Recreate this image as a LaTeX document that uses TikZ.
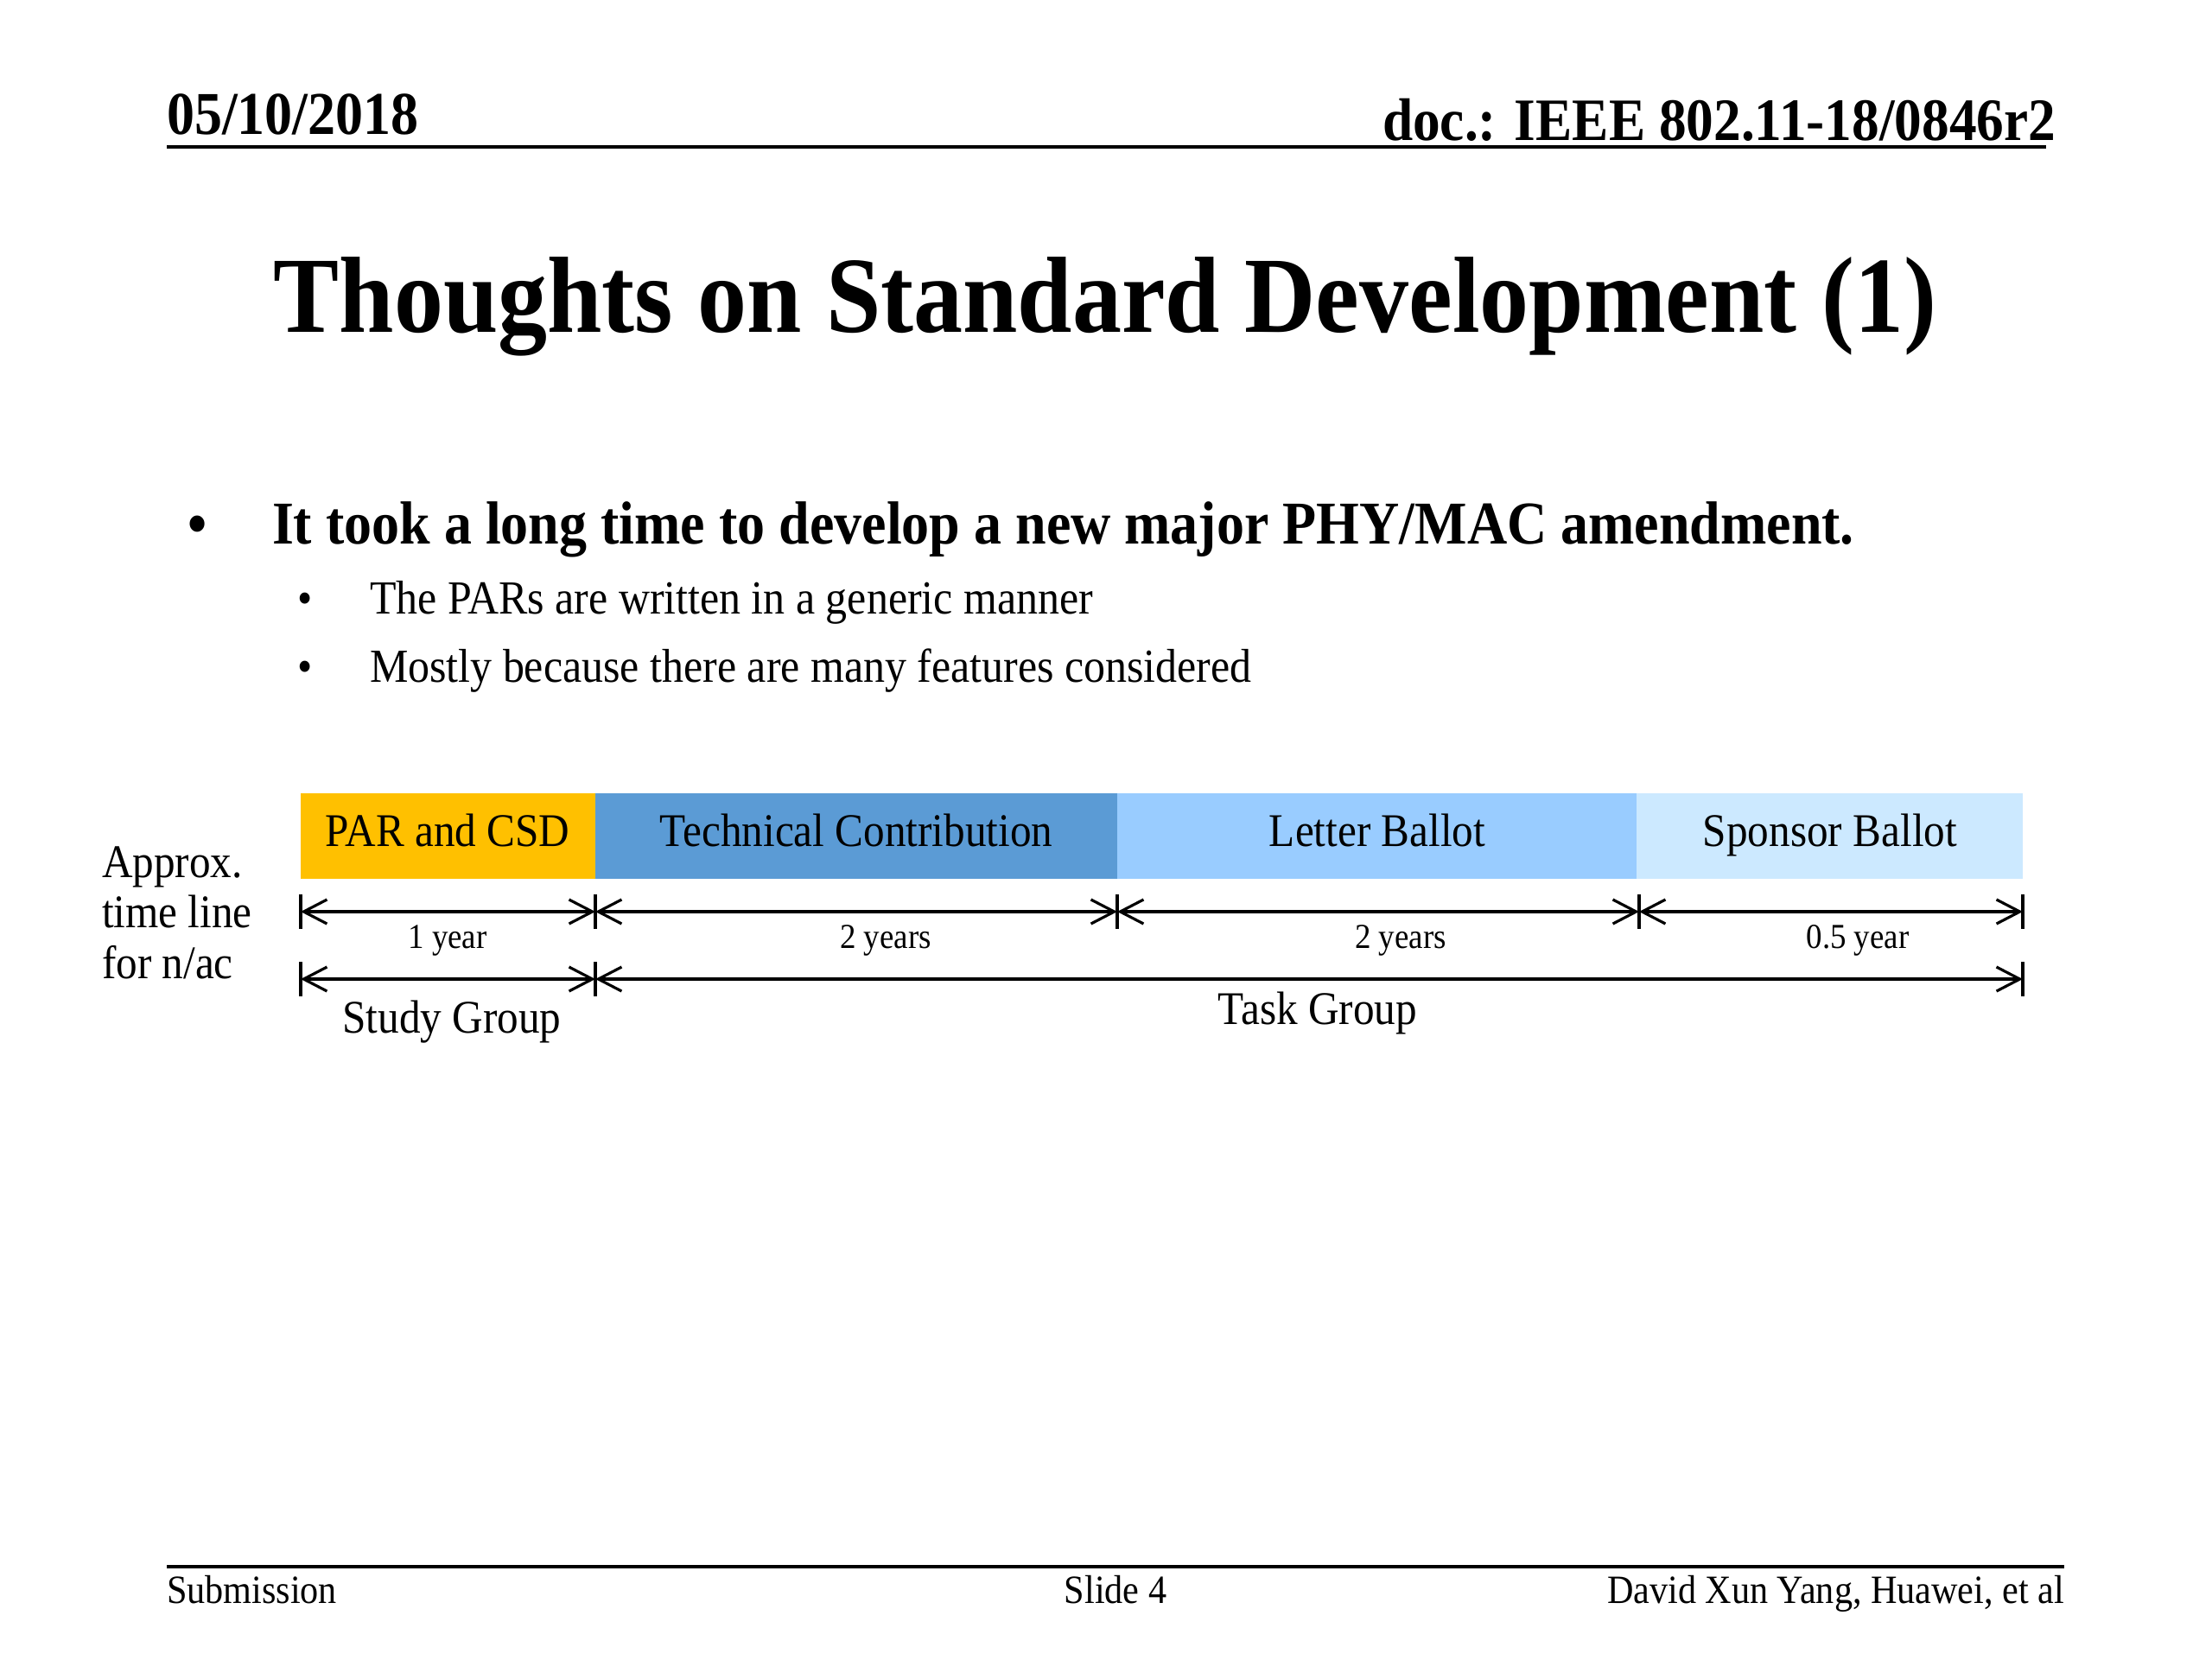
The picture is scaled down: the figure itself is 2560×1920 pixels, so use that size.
\documentclass[tikz,border=0pt]{standalone}
\usepackage{fontspec}
\usepackage{graphicx}
\setmainfont{Liberation Serif}
\usetikzlibrary{arrows.meta}
\definecolor{gold}{HTML}{FFC000}
\definecolor{techblue}{HTML}{5B9BD5}
\definecolor{letterblue}{HTML}{99CCFF}
\definecolor{sponsorblue}{HTML}{CCE9FF}
\newcommand\vst[1]{\scalebox{1}[1.1]{#1}}
\tikzset{
  txt/.style={inner sep=0pt, outer sep=0pt, anchor=base},
  bartext/.style={txt, font=\fontsize{14}{17}\selectfont},
  yeartext/.style={txt, font=\fontsize{10.5}{12}\selectfont},
  grouptext/.style={txt, font=\fontsize{14}{17}\selectfont},
  tickline/.style={line width=0.9pt},
  dimarrow/.style={line width=0.9pt, {Straight Barb[length=2.7mm,width=2.8mm]}-{Straight Barb[length=2.7mm,width=2.8mm]}},
  rule/.style={line width=1.2pt}
}
\begin{document}
\begin{tikzpicture}[x=0.01cm,y=-0.01cm]
\useasboundingbox (0,0) rectangle (2560,1920);

% header
\node[txt, anchor=base west, font=\fontsize{18.2}{21}\selectfont\bfseries] (date) at (193,155) {\vst{05/10/2018}};
\node[txt, anchor=base east, font=\fontsize{18}{21}\selectfont\bfseries] (doc) at (2379,162) {\vst{doc.: IEEE 802.11-18/0846r2}};
\coordinate (hl) at (193,170);
\coordinate (hr) at (2368,170);
\draw[rule] (hl) -- (hr);

% title
\node[txt, font=\fontsize{32.4}{38}\selectfont\bfseries] (title) at (1279,384) {\vst{Thoughts on Standard Development (1)}};

% bullets
\node[txt, font=\fontsize{18}{21}\selectfont\bfseries] (b1) at (229,629) {\vst{•}};
\node[txt, anchor=base west, font=\fontsize{18.2}{21}\selectfont\bfseries] (b1t) at (315,629) {\vst{It took a long time to develop a new major PHY/MAC amendment.}};
\node[txt, font=\fontsize{14}{17}\selectfont] (b2) at (353,710) {\vst{•}};
\node[txt, anchor=base west, font=\fontsize{14.2}{17}\selectfont] (b2t) at (428,710) {\vst{The PARs are written in a generic manner}};
\node[txt, font=\fontsize{14}{17}\selectfont] (b3) at (353,789) {\vst{•}};
\node[txt, anchor=base west, font=\fontsize{14.2}{17}\selectfont] (b3t) at (428,789) {\vst{Mostly because there are many features considered}};

% bars
\fill[gold] (348,918) rectangle (689,1017);
\fill[techblue] (689,918) rectangle (1293,1017);
\fill[letterblue] (1293,918) rectangle (1894,1017);
\fill[sponsorblue] (1894,918) rectangle (2341,1017);
\node[bartext] (par) at (518,979) {\vst{PAR and CSD}};
\node[bartext] (tech) at (991,979) {\vst{Technical Contribution}};
\node[bartext] (lb) at (1594,979) {\vst{Letter Ballot}};
\node[bartext] (sb) at (2118,979) {\vst{Sponsor Ballot}};

% left label
\node[txt, anchor=base west, font=\fontsize{14}{17}\selectfont] (ap1) at (118,1015) {\vst{Approx.}};
\node[txt, anchor=base west, font=\fontsize{14}{17}\selectfont] (ap2) at (118,1073) {\vst{time line}};
\node[txt, anchor=base west, font=\fontsize{14}{17}\selectfont] (ap3) at (118,1132) {\vst{for n/ac}};

% row 1 ticks and arrows
\coordinate (t0) at (348,1055);
\coordinate (t1) at (689,1055);
\coordinate (t2) at (1293,1055);
\coordinate (t3) at (1897,1055);
\coordinate (t4) at (2341,1055);
\foreach \t in {t0,t1,t2,t3,t4} \draw[tickline] (\t) ++(0,-20) -- ++(0,40);
\draw[dimarrow] (t0) -- (t1);
\draw[dimarrow] (t1) -- (t2);
\draw[dimarrow] (t2) -- (t3);
\draw[dimarrow] (t3) -- (t4);
\node[yeartext] (y1) at (518,1097) {\vst{1 year}};
\node[yeartext] (y2) at (1025,1097) {\vst{2 years}};
\node[yeartext] (y3) at (1621,1097) {\vst{2 years}};
\node[yeartext] (y4) at (2150,1097) {\vst{0.5 year}};

% row 2
\coordinate (s0) at (348,1133);
\coordinate (s1) at (689,1133);
\coordinate (s2) at (2341,1133);
\foreach \s in {s0,s1,s2} \draw[tickline] (\s) ++(0,-20) -- ++(0,40);
\draw[dimarrow] (s0) -- (s1);
\draw[dimarrow] (s1) -- (s2);
\node[grouptext] (sg) at (523,1195) {\vst{Study Group}};
\node[grouptext] (tg) at (1525,1185) {\vst{Task Group}};

% footer
\coordinate (fl) at (193,1813);
\coordinate (fr) at (2389,1813);
\draw[rule] (fl) -- (fr);
\node[txt, anchor=base west, font=\fontsize{12}{14}\selectfont] (sub) at (193,1855) {\vst{Submission}};
\node[txt, font=\fontsize{12}{14}\selectfont] (slide) at (1291,1855) {\vst{Slide 4}};
\node[txt, anchor=base east, font=\fontsize{12}{14}\selectfont] (auth) at (2389,1855) {\vst{David Xun Yang, Huawei, et al}};
\end{tikzpicture}
\end{document}
